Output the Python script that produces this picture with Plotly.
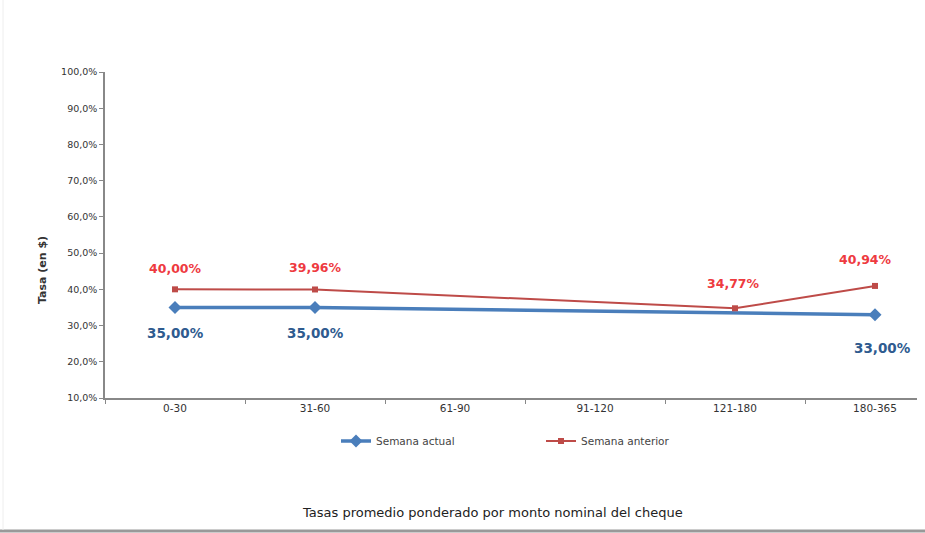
import plotly.graph_objects as go

categories = ["0-30", "31-60", "61-90", "91-120", "121-180", "180-365"]
semana_actual = [35.00, 35.00, None, None, None, 33.00]
semana_anterior = [40.00, 39.96, None, None, 34.77, 40.94]
y_ticks = [10, 20, 30, 40, 50, 60, 70, 80, 90, 100]
y_tick_labels = [f"{v:.1f}%".replace(".", ",") for v in y_ticks]

# label offsets (style only)
actual_shift = [(0, -26), (0, -26), None, None, None, (7, -33)]
anterior_shift = [(0, 21), (0, 22), None, None, (-2, 25), (-10, 26)]

fig = go.Figure()
fig.add_trace(go.Scatter(
    x=categories, y=semana_actual, name="Semana actual",
    mode="lines+markers", connectgaps=True,
    line=dict(color="#4a7ebb", width=3.5),
    marker=dict(symbol="diamond", size=10, color="#4a7ebb"),
    legend="legend",
))
fig.add_trace(go.Scatter(
    x=categories, y=semana_anterior, name="Semana anterior",
    mode="lines+markers", connectgaps=True,
    line=dict(color="#be4b48", width=2),
    marker=dict(symbol="square", size=6, color="#be4b48"),
    legend="legend2",
))

for cat, val, sh in zip(categories, semana_actual, actual_shift):
    if val is None:
        continue
    fig.add_annotation(x=cat, y=val, text="<b>" + f"{val:.2f}%".replace(".", ",") + "</b>",
                       showarrow=False, xshift=sh[0], yshift=sh[1],
                       font=dict(family="DejaVu Sans", size=13.5, color="#2f5b8f"))
for cat, val, sh in zip(categories, semana_anterior, anterior_shift):
    if val is None:
        continue
    fig.add_annotation(x=cat, y=val, text="<b>" + f"{val:.2f}%".replace(".", ",") + "</b>",
                       showarrow=False, xshift=sh[0], yshift=sh[1],
                       font=dict(family="DejaVu Sans", size=12.5, color="#ee3a3f"))

fig.update_layout(
    width=925, height=533,
    margin=dict(l=105, r=8, t=72, b=135),
    paper_bgcolor="white", plot_bgcolor="white",
    font=dict(family="DejaVu Sans", size=9, color="#333"),
    showlegend=True,
    legend=dict(orientation="h", x=(336 - 105) / 812, xanchor="left", y=(398 - 441) / 326,
                yanchor="middle", font=dict(size=10.5, color="#444"), bgcolor="rgba(0,0,0,0)"),
    legend2=dict(orientation="h", x=(541 - 105) / 812, xanchor="left", y=(398 - 441) / 326,
                 yanchor="middle", font=dict(size=10.5, color="#444"), bgcolor="rgba(0,0,0,0)"),
)
fig.update_xaxes(
    type="category", range=[-0.5, 5.3],
    showline=True, linecolor="#888", linewidth=1.5,
    ticks="outside", ticklen=4, tickcolor="#888", tickson="boundaries",
    showgrid=False, tickfont=dict(family="DejaVu Sans", size=10.5, color="#333"),
)
fig.update_yaxes(
    range=[10, 100], tickvals=y_ticks, ticktext=y_tick_labels,
    showline=True, linecolor="#888", linewidth=1.5,
    ticks="outside", ticklen=4, tickcolor="#888",
    showgrid=False, zeroline=False, tickfont=dict(family="DejaVu Sans", size=9.5, color="#333"),
)
fig.add_annotation(
    text="<b>Tasa (en $)</b>", textangle=-90, xref="paper", yref="paper",
    x=(42 - 105) / 812, y=(398 - 270) / 326, xanchor="center", yanchor="middle",
    showarrow=False, font=dict(family="DejaVu Sans", size=11, color="#333"),
)
fig.add_annotation(
    text="Tasas promedio ponderado por monto nominal del cheque",
    xref="paper", yref="paper", x=(492 - 105) / 812, y=(398 - 512) / 326,
    xanchor="center", yanchor="middle",
    showarrow=False, font=dict(family="DejaVu Sans", size=13, color="#222"),
)
fig.add_shape(type="line", xref="paper", yref="paper",
              x0=-105 / 812, x1=820 / 812, y0=(398 - 531) / 326, y1=(398 - 531) / 326,
              line=dict(color="#999", width=3))
fig.add_shape(type="line", xref="paper", yref="paper",
              x0=-102 / 812, x1=-102 / 812, y0=(398 - 530) / 326, y1=398 / 326,
              line=dict(color="#eee", width=1))

fig.write_html("out.html")
